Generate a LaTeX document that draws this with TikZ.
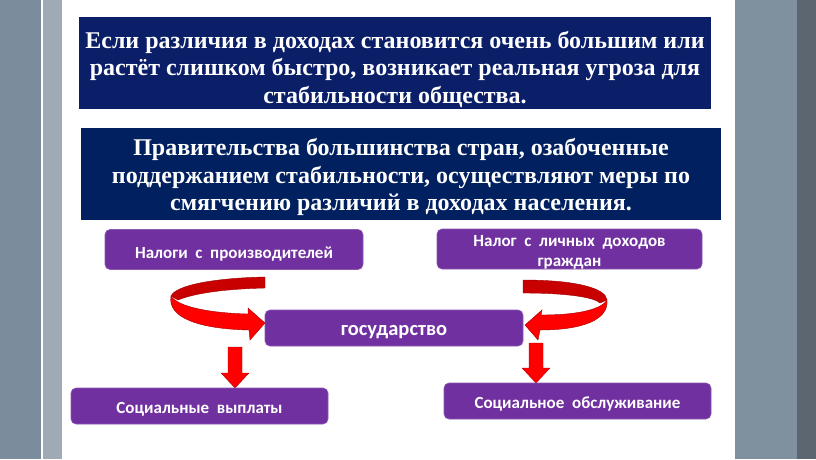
\documentclass[tikz,border=0pt]{standalone}
\usepackage{fontspec}
\setmainfont{Liberation Serif}
\newfontfamily\carfont{Carlito}
\definecolor{stripA}{HTML}{7B8D9C}
\definecolor{stripB}{HTML}{9EABB6}
\definecolor{stripC}{HTML}{7F909F}
\definecolor{stripD}{HTML}{5B6670}
\definecolor{navyA}{HTML}{0B1F69}
\definecolor{navyB}{HTML}{002060}
\definecolor{purp}{HTML}{7030A0}
\definecolor{purpedge}{HTML}{8A5AB0}
\definecolor{redfront}{HTML}{FF0000}
\definecolor{redback}{HTML}{C80000}
\definecolor{rededge}{HTML}{A00000}
\tikzset{
  navybox/.style={inner sep=0pt},
  navytext/.style={inner sep=0pt, text=white, align=center, font=\bfseries\fontsize{24}{27.5}\selectfont},
  purpbox/.style={fill=purp, draw=purpedge, line width=0.6pt, rounded corners=5pt, inner sep=0pt},
  purptext/.style={inner sep=0pt, text=white, align=center, font=\carfont\bfseries\fontsize{17}{20.5}\selectfont},
  frontband/.style={fill=redfront, draw=rededge, line width=0.4pt},
  backband/.style={fill=redback, draw=rededge, line width=0.4pt},
  blockarrow/.style={fill=redfront, draw=rededge, line width=0.3pt}
}
\begin{document}
\begin{tikzpicture}[x=1pt,y=-1pt]
\useasboundingbox (0,0) rectangle (816,459);
\fill[white] (0,0) rectangle (816,459);
\fill[stripA] (0,0) rectangle (41,459);
\fill[stripB] (42.5,0) rectangle (62,459);
\fill[stripC] (735,0) rectangle (797,459);
\fill[stripD] (797,0) rectangle (816,459);

% navy boxes
\node[navybox, fill=navyA, minimum width=632pt, minimum height=92pt] (t1) at (395,63) {};
\node[navytext] (t1text) at ([yshift=-6pt]t1.center)
  {Если различия в доходах становится очень большим или\\растёт слишком быстро, возникает реальная угроза для\\стабильности общества.};
\node[navybox, fill=navyB, minimum width=640pt, minimum height=92pt] (t2) at (401,174) {};
\node[navytext] (t2text) at ([yshift=-3pt]t2.center)
  {Правительства большинства стран, озабоченные\\поддержанием стабильности, осуществляют меры по\\смягчению различий в доходах населения.};

% purple boxes
\node[purpbox, minimum width=258pt, minimum height=40pt] (p1) at (234,249.5) {};
\node[purptext] (p1text) at ([yshift=-4.5pt]p1.center) {Налоги~~с~~производителей};
\node[purpbox, minimum width=265pt, minimum height=40pt] (p2) at (569.5,249) {};
\node[purptext] (p2text) at ([yshift=-3.5pt]p2.center) {Налог~~с~~личных~~доходов\\граждан};
\node[purpbox, minimum width=258pt, minimum height=36pt] (gov) at (394,328) {};
\node[purptext, font=\carfont\bfseries\fontsize{20.5}{24}\selectfont] (govtext) at ([yshift=-4.5pt]gov.center) {государство};
\node[purpbox, minimum width=257pt, minimum height=36pt] (s1) at (199.5,406) {};
\node[purptext] (s1text) at ([yshift=-3pt]s1.center) {Социальные~~выплаты};
\node[purpbox, minimum width=267pt, minimum height=36pt] (s2) at (577.5,401) {};
\node[purptext] (s2text) at ([yshift=-3pt]s2.center) {Социальное~~обслуживание};

% left curved arrow
\path[backband] (265,277) .. controls (215,278) and (176,285) .. (171,296)
  -- (178,300) .. controls (195,293) and (225,289) .. (265,288) -- cycle;
\path[frontband] (171,296) .. controls (178,307) and (210,313) .. (248,314)
  -- (248,308) -- (265,323) -- (250,340) -- (249,330)
  .. controls (200,329) and (167,318) .. (171,296) -- cycle;

% right curved arrow
\path[backband] (523,280) .. controls (575,280) and (606,288) .. (607,300)
  -- (600,303) .. controls (594,297) and (565,293) .. (523,293) -- cycle;
\path[frontband] (607,300) .. controls (600,311) and (572,315) .. (541,315)
  -- (542,310) -- (525,325) -- (538,340) -- (540,330)
  .. controls (582,330) and (609,320) .. (607,300) -- cycle;

% down arrows
\path[blockarrow] (228,347) -- (242,347) -- (242,373) -- (249,373) -- (235,388)
  -- (221,373) -- (228,373) -- cycle;
\path[blockarrow] (529,343) -- (543,343) -- (543,368) -- (550,368) -- (536,383)
  -- (522,368) -- (529,368) -- cycle;
\end{tikzpicture}
\end{document}
